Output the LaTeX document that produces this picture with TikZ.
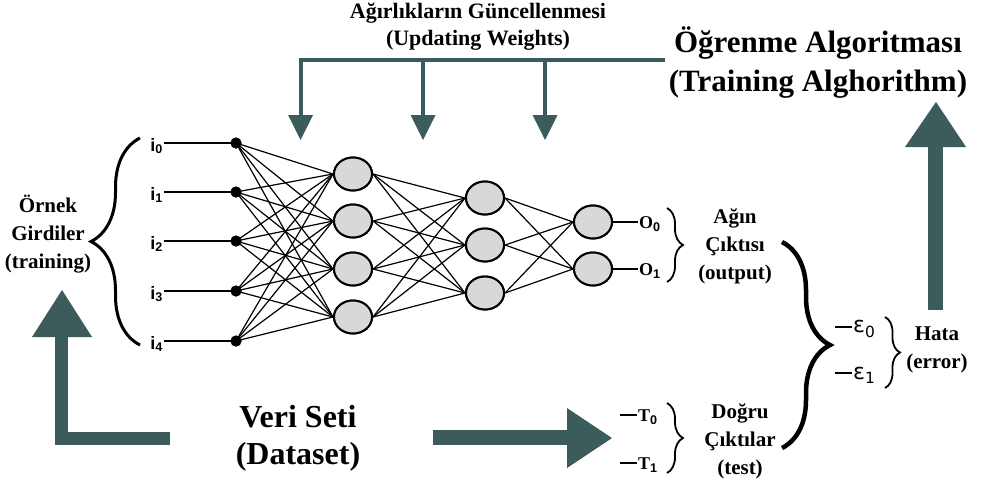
\documentclass[tikz,border=0pt]{standalone}
\usepackage{fontspec}
\setmainfont{Liberation Serif}
\newfontfamily\lsans{Liberation Sans}
\newfontfamily\djs{DejaVu Sans}
\usetikzlibrary{decorations.pathreplacing,shapes.geometric,calc}
\definecolor{arrowteal}{RGB}{60,92,92}
\definecolor{neurongray}{RGB}{216,216,216}
\tikzset{
  neuron/.style={ellipse,draw=black,line width=2pt,fill=neurongray,minimum width=38pt,minimum height=33pt,inner sep=0pt},
  inpdot/.style={circle,fill=black,minimum size=11pt,inner sep=0pt},
  conn/.style={draw=black,line width=1.2pt},
  lead/.style={draw=black,line width=1.2pt},
  bigarrow/.style={draw=arrowteal},
  headfill/.style={fill=arrowteal},
  lbl/.style={font=\fontsize{21}{28}\selectfont\bfseries,align=center,inner sep=0pt},
  sublbl/.style={font=\fontsize{18}{20}\selectfont\bfseries,inner sep=1pt},
  ilbl/.style={font=\lsans\fontsize{18}{20}\selectfont\bfseries,inner sep=1pt},
  elbl/.style={font=\djs\fontsize{22}{24}\selectfont,inner sep=1pt},
  bracedeco/.style={decorate,decoration={brace,amplitude=#1}},
}
\begin{document}
\begin{tikzpicture}[x=1pt,y=-1pt]
\useasboundingbox (0,0) rectangle (987,482);
\fill[white] (0,0) rectangle (987,482);

% ---------- network nodes ----------
\foreach \k/\yy in {0/143,1/192,2/241,3/291,4/341}{
  \node[inpdot] (d\k) at (236,\yy) {};
  \node[ilbl,anchor=east] (il\k) at (164,\yy+3) {i\textsubscript{\k}};
}
\foreach \k/\yy in {1/174,2/221,3/269,4/317}{\node[neuron] (h\k) at (353,\yy) {};}
\foreach \k/\yy in {1/198,2/245,3/293}{\node[neuron] (g\k) at (485,\yy) {};}
\foreach \k/\yy in {1/222,2/269}{\node[neuron] (o\k) at (593,\yy) {};}
% connections
\foreach \a in {0,...,4}{\foreach \b in {1,...,4}{\draw[conn] (d\a.center) -- (h\b.west);}}
\foreach \a in {1,...,4}{\foreach \b in {1,2,3}{\draw[conn] (h\a.east) -- (g\b.west);}}
\foreach \a in {1,2,3}{\foreach \b in {1,2}{\draw[conn] (g\a.east) -- (o\b.west);}}
% redraw neurons on top of the connections
\foreach \k in {1,...,4}{\node[neuron] at (h\k.center) {};}
\foreach \k in {1,2,3}{\node[neuron] at (g\k.center) {};}
\foreach \k in {1,2}{\node[neuron] at (o\k.center) {};}
\foreach \k in {0,...,4}{
  \node[inpdot] at (d\k.center) {};
  \draw[lead] (il\k.east |- d\k.center) -- (d\k.center);
}

% outputs
\node[sublbl,anchor=west] (ol0) at (638,224) {O\textsubscript{\lsans 0}};
\node[sublbl,anchor=west] (ol1) at (638,271) {O\textsubscript{\lsans 1}};
\draw[lead] (o1.east) -- (ol0.west |- o1.east);
\draw[lead] (o2.east) -- (ol1.west |- o2.east);

% targets
\coordinate (t0s) at (620,415);
\coordinate (t1s) at (620,463);
\node[sublbl,anchor=west] (tl0) at (637,417) {T\textsubscript{\lsans 0}};
\node[sublbl,anchor=west] (tl1) at (637,465) {T\textsubscript{\lsans 1}};
\draw[lead] (t0s) -- (tl0.west |- t0s);
\draw[lead] (t1s) -- (tl1.west |- t1s);

% errors
\coordinate (e0s) at (835,327);
\coordinate (e1s) at (835,373);
\node[elbl,anchor=west] (el0) at (852,329) {ε\textsubscript{0}};
\node[elbl,anchor=west] (el1) at (852,375) {ε\textsubscript{1}};
\draw[lead] (e0s) -- (el0.west |- e0s);
\draw[lead] (e1s) -- (el1.west |- e1s);

% ---------- braces ----------
\coordinate (bi1) at (140,345); \coordinate (bi2) at (140,138);
\draw[bracedeco=49pt,line width=3pt] (bi1) -- (bi2);
\coordinate (bo1) at (667,208); \coordinate (bo2) at (667,282);
\draw[bracedeco=16pt,line width=1.8pt] (bo1) -- (bo2);
\coordinate (bt1) at (667,403); \coordinate (bt2) at (667,473);
\draw[bracedeco=16pt,line width=1.8pt] (bt1) -- (bt2);
\coordinate (bb1) at (782,242); \coordinate (bb2) at (782,448);
\draw[bracedeco=48pt,line width=4.5pt] (bb1) -- (bb2);
\coordinate (bh1) at (885,317); \coordinate (bh2) at (885,388);
\draw[bracedeco=15pt,line width=1.8pt] (bh1) -- (bh2);

% ---------- text labels ----------
\node[lbl] (ornek) at (48,234) {Örnek\\Girdiler\\(training)};
\node[lbl] (agin) at (735,246) {Ağın\\Çıktısı\\(output)};
\node[lbl] (dogru) at (740,441) {Doğru\\Çıktılar\\(test)};
\node[lbl] (hata) at (937,350) {Hata\\(error)};
\node[font=\fontsize{32}{37}\selectfont\bfseries,align=center,inner sep=0pt] (veri) at (298,438) {Veri Seti\\(Dataset)};
\node[font=\fontsize{22}{27}\selectfont\bfseries,align=center,inner sep=0pt] (upd) at (478,27) {Ağırlıkların Güncellenmesi\\(Updating Weights)};
\node[font=\fontsize{31}{39}\selectfont\bfseries,align=center,inner sep=0pt] (alg) at (818,63) {Öğrenme Algoritması\\(Training Alghorithm)};

% ---------- teal arrows ----------
% left L-shaped arrow
\coordinate (la1) at (170,438.5); \coordinate (la2) at (61.5,438.5); \coordinate (la3) at (61.5,336);
\draw[bigarrow,line width=13pt] (la1) -- (la2) -- (la3);
\fill[headfill] (32,337) -- (92,337) -- (62,290) -- cycle;
% bottom right arrow
\coordinate (ba1) at (433,437.5); \coordinate (ba2) at (568,437.5);
\draw[bigarrow,line width=15pt] (ba1) -- (ba2);
\fill[headfill] (567,408) -- (612,438) -- (567,468) -- cycle;
% right up arrow
\coordinate (ra1) at (935.5,310); \coordinate (ra2) at (935.5,146);
\draw[bigarrow,line width=15pt] (ra1) -- (ra2);
\fill[headfill] (905,147) -- (936,102) -- (966,147) -- cycle;
% top weight-update arrows
\coordinate (ta0) at (665,60);
\coordinate (ta1) at (300.5,116); \coordinate (ta2) at (423,116); \coordinate (ta3) at (545,116);
\draw[bigarrow,line width=4pt] (ta0) -| (ta1);
\draw[bigarrow,line width=4pt] (ta2 |- ta0) -- (ta2);
\draw[bigarrow,line width=4pt] (ta3 |- ta0) -- (ta3);
\foreach \c in {ta1,ta2,ta3}{
  \fill[headfill] ($(\c)+(-12.5,-1)$) -- ($(\c)+(12.5,-1)$) -- ($(\c)+(0,24)$) -- cycle;
}
\end{tikzpicture}
\end{document}
